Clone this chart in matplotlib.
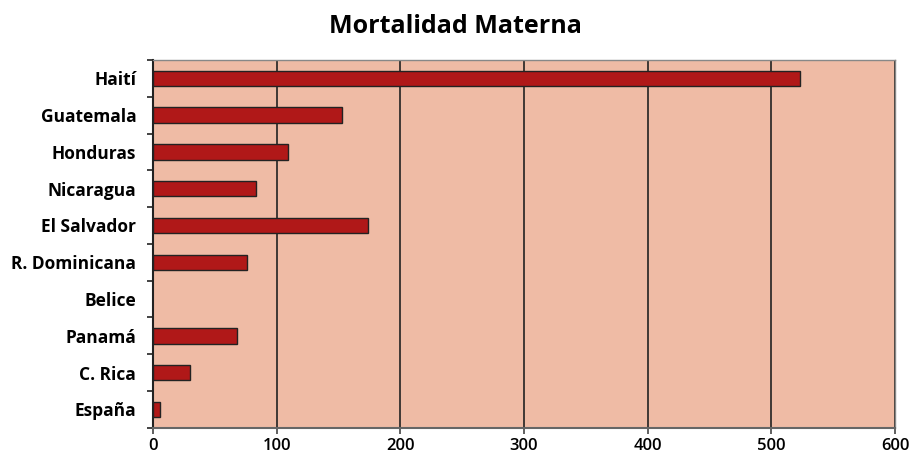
import matplotlib
matplotlib.use("Agg")
import matplotlib.pyplot as plt
import numpy as np

# Datos (Belice sin dato)
countries = ["Haití", "Guatemala", "Honduras", "Nicaragua", "El Salvador",
             "R. Dominicana", "Belice", "Panamá", "C. Rica", "España"]
values = [523, 153, 109, 83, 174, 76, np.nan, 68, 30, 6]
x_ticks = [0, 100, 200, 300, 400, 500, 600]

BG = "#EFBBA5"
BAR = "#B01818"

fig = plt.figure(figsize=(9.1, 4.61), dpi=100)
ax = fig.add_axes([0.168, 0.072, 0.8155, 0.798])
ax.set_facecolor(BG)

y = np.arange(len(countries))
ax.barh(y, values, height=0.42, color=BAR, edgecolor="#222222", linewidth=1.0, zorder=3)

ax.set_xlim(0, 600)
ax.set_ylim(len(countries) - 0.5, -0.5)
ax.set_xticks(x_ticks)
ax.set_xticklabels([str(t) for t in x_ticks], fontfamily="Open Sans",
                   fontweight="semibold", fontsize=12)
ax.set_yticks(y)
ax.set_yticklabels(countries, fontfamily="Open Sans", fontweight="bold", fontsize=12.5)
ax.tick_params(axis="y", length=0, pad=12)
ax.set_yticks(np.arange(-0.5, len(countries), 1), minor=True)
ax.tick_params(axis="y", which="minor", length=4, width=1.2, color="#222222")
ax.tick_params(axis="x", length=4, width=1.2, color="#444444", pad=3)

ax.grid(axis="x", color="#222222", linewidth=1.2, zorder=1)
ax.set_axisbelow(True)

for side in ["top", "right"]:
    ax.spines[side].set_color("#888888")
    ax.spines[side].set_linewidth(1.0)
ax.spines["left"].set_color("#222222")
ax.spines["left"].set_linewidth(1.5)
ax.spines["bottom"].set_color("#666666")
ax.spines["bottom"].set_linewidth(1.5)

fig.text(0.5, 0.942, "Mortalidad Materna", ha="center", va="center",
         fontfamily="Open Sans", fontweight="bold", fontsize=18)

fig.savefig("out.png", dpi=100)
